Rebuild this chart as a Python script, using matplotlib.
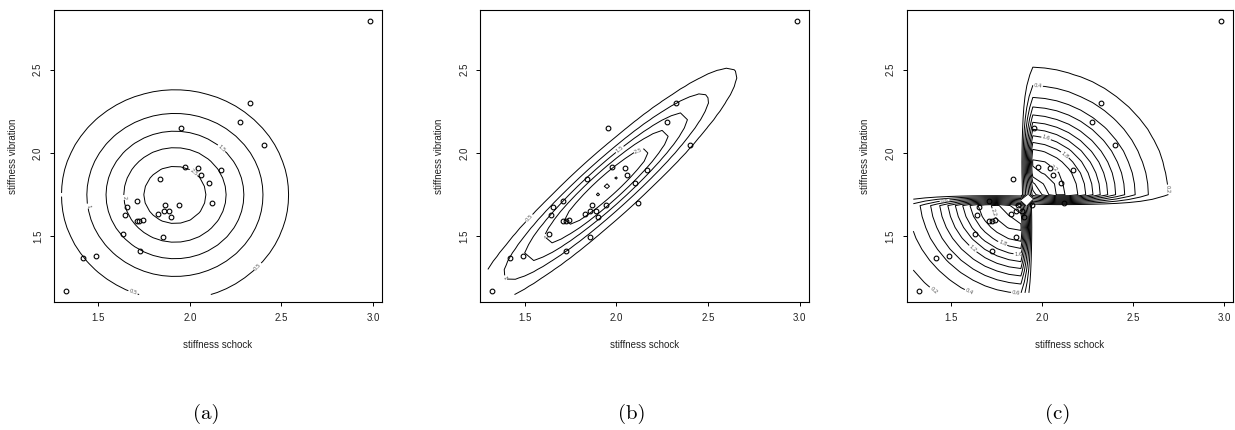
import numpy as np
import matplotlib
matplotlib.use("Agg")
import matplotlib.pyplot as plt

# ---- data (stiffness of boards, shock vs vibration, in thousands) ----
shock = [1.889, 2.403, 2.119, 1.645, 1.976, 1.712, 1.943, 2.104, 2.983, 1.745,
         1.710, 2.046, 1.840, 1.867, 1.859, 1.954, 1.325, 1.419, 1.828, 1.725,
         2.276, 1.899, 1.633, 2.061, 1.856, 1.727, 2.168, 1.655, 2.326, 1.490]
vibration = [1.651, 2.048, 1.700, 1.627, 1.916, 1.712, 1.685, 1.820, 2.794, 1.600,
             1.591, 1.907, 1.841, 1.685, 1.649, 2.149, 1.170, 1.371, 1.634, 1.594,
             2.189, 1.614, 1.513, 1.867, 1.493, 1.412, 1.896, 1.675, 2.301, 1.382]

xticks = [1.5, 2.0, 2.5, 3.0]
xtick_labels = ["1.5", "2.0", "2.5", "3.0"]
yticks = [1.5, 2.0, 2.5]
ytick_labels = ["1.5", "2.0", "2.5"]
xlabel = "stiffness schock"
ylabel = "stiffness vibration"
captions = ["(a)", "(b)", "(c)"]

levels_a = [0.5, 1.0, 1.5, 2.0, 2.5]
levels_b = [0.5, 1.0, 1.5, 2.0, 2.5, 3.0]
levels_c = [0.2, 0.4, 0.6, 0.8, 1.0, 1.2, 1.4, 1.6, 1.8, 2.0, 2.2]

# ---- density model parameters ----
grid_step_ab = 0.05
grid_x0_ab, grid_x1_ab, grid_y0_ab, grid_y1_ab = 1.30, 3.0, 1.15, 2.80
grid_step_c = 0.0655
grid_x0_c, grid_x1_c, grid_y0_c, grid_y1_c = 1.295, 3.0, 1.16, 2.81

a_peak, a_cx, a_cy, a_sx, a_sy = 2.85, 1.919, 1.748, 0.332, 0.338
b_peak, b_cx, b_cy, b_sx, b_sy, b_rho = 3.06, 1.945, 1.797, 0.375, 0.375, 0.936
c_peak, c_cx, c_cy, c_s, c_dip, c_tau = 2.87, 1.92, 1.745, 0.333, 0.5, 0.14
c_split_x, c_split_y = 1.92, 1.72

# label positions (approximate, where the reference shows them)
lab_a = [(1.689, 1.16), (2.367, 1.322), (1.438, 1.68), (2.165, 2.018), (1.633, 1.732), (2.016, 1.876)]
lab_b = [(1.515, 1.62), (1.376, 1.236), (2.02, 2.02), (1.588, 1.482), (2.126, 2.0)]
lab_c = [(1.403, 1.172), (1.599, 1.162), (1.863, 1.16), (1.978, 2.40), (2.672, 1.78),
         (1.622, 1.426), (1.869, 1.38), (1.786, 1.46), (2.02, 2.08), (2.128, 1.992),
         (2.078, 1.922), (1.467, 1.708), (1.746, 1.644)]

gx = np.arange(grid_x0_ab, grid_x1_ab + 1e-9, grid_step_ab)
gy = np.arange(grid_y0_ab, grid_y1_ab + 1e-9, grid_step_ab)
X, Y = np.meshgrid(gx, gy)

# (a)
Za = a_peak * np.exp(-0.5 * (((X - a_cx) / a_sx) ** 2 + ((Y - a_cy) / a_sy) ** 2))
# (b)
u = (X - b_cx) / b_sx
v = (Y - b_cy) / b_sy
Zb = b_peak * np.exp(-0.5 * (u ** 2 - 2 * b_rho * u * v + v ** 2) / (1 - b_rho ** 2))
# (c)
gxc = np.arange(grid_x0_c, grid_x1_c + 1e-9, grid_step_c)
gyc = np.arange(grid_y0_c, grid_y1_c + 1e-9, grid_step_c)
Xc, Yc = np.meshgrid(gxc, gyc)
r2 = (Xc - c_cx) ** 2 + (Yc - c_cy) ** 2
Zc = c_peak * np.exp(-r2 / (2 * c_s ** 2)) * (1 - c_dip * np.exp(-r2 / c_tau ** 2))
Zc = np.where((Xc - c_split_x) * (Yc - c_split_y) > 0, Zc, 0.0)

W, H = 1235, 430
fig = plt.figure(figsize=(W / 100, H / 100), dpi=100)

lefts = [54, 480.3, 906.7]
widths = [328, 328.4, 326.7]
top, bottom = 10, 302
cap_x = [206, 632, 1058]

xlim = (1.2587, 3.0493)
ylim = (1.105, 2.859)

fmt = lambda val: f"{val:g}"
font = "Liberation Sans"

surfaces = [(X, Y, Za, levels_a, lab_a), (X, Y, Zb, levels_b, lab_b),
            (Xc, Yc, Zc, levels_c, lab_c)]

for i, (GX, GY, Z, lev, labs) in enumerate(surfaces):
    ax = fig.add_axes([lefts[i] / W, (H - bottom) / H, widths[i] / W, (bottom - top) / H])
    cs = ax.contour(GX, GY, Z, levels=lev, colors="black", linewidths=0.7)
    ax.clabel(cs, inline=True, fontsize=3.8, colors="#555555", fmt=fmt,
              manual=labs, inline_spacing=1)
    ax.plot(shock, vibration, linestyle="none", marker="o", markersize=3.4,
            markerfacecolor="none", markeredgecolor="black", markeredgewidth=0.8)
    ax.set_xlim(*xlim)
    ax.set_ylim(*ylim)
    ax.set_xticks(xticks)
    ax.set_xticklabels(xtick_labels, fontfamily=font, fontsize=7, color="#222222")
    ax.set_yticks(yticks)
    ax.set_yticklabels(ytick_labels, fontfamily=font, fontsize=7, color="#222222",
                       rotation=90, va="center")
    ax.tick_params(direction="out", length=3, width=0.7, pad=5)
    for sp in ax.spines.values():
        sp.set_linewidth(0.8)
    ax.set_xlabel(xlabel, fontfamily=font, fontsize=7, color="#222222", labelpad=12)
    ax.set_ylabel(ylabel, fontfamily=font, fontsize=7, color="#222222", labelpad=11)
    fig.text(cap_x[i] / W, (H - 414) / H, captions[i], fontfamily="cmr10",
             fontsize=15, ha="center", va="center")

fig.savefig("out.png", dpi=100)
